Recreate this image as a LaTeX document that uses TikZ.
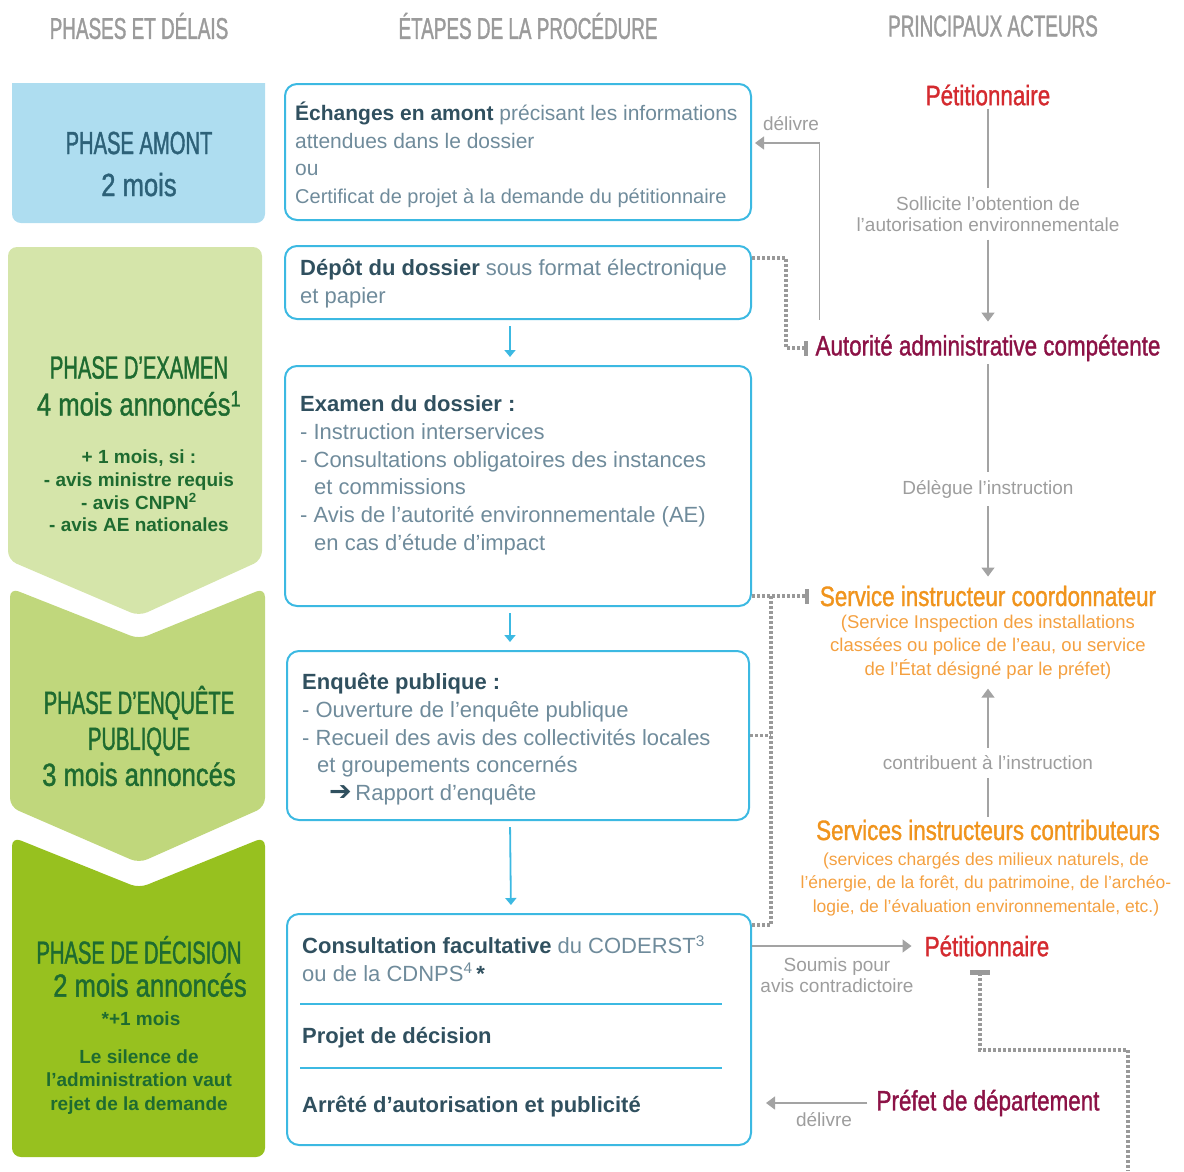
\documentclass[tikz,border=0pt]{standalone}
\usepackage{fontspec}
\setmainfont{Liberation Sans}
\newfontfamily\capfont[FakeStretch=0.63,FakeBold=1.2]{Liberation Sans}
\newfontfamily\condfont[FakeStretch=0.8,FakeBold=1.2]{Liberation Sans}
\newfontfamily\symfont{DejaVu Sans}
\usetikzlibrary{arrows.meta}

\definecolor{boxcyan}{HTML}{3CB9E2}
\definecolor{bodydark}{HTML}{30505F}
\definecolor{bodygray}{HTML}{6F8B9B}
\definecolor{hdrgray}{HTML}{9B9B9B}
\definecolor{labelgray}{HTML}{9D9D9D}
\definecolor{linegray}{HTML}{A3A3A3}
\definecolor{dotgray}{HTML}{999999}
\definecolor{amontblue}{HTML}{AEDDF0}
\definecolor{amonttext}{HTML}{2D6178}
\definecolor{examgreen}{HTML}{D5E5AA}
\definecolor{enqgreen}{HTML}{C0D77C}
\definecolor{decgreen}{HTML}{97C11F}
\definecolor{greentext}{HTML}{1E6B30}
\definecolor{actred}{HTML}{D42A2F}
\definecolor{actplum}{HTML}{8C1246}
\definecolor{actorange}{HTML}{F0941D}
\definecolor{suborange}{HTML}{F4A040}

\newcommand\stepbf[1]{{\color{bodydark}\bfseries #1}}

\begin{document}
\begin{tikzpicture}[x=1pt,y=-1pt,
  stepbox/.style={draw=boxcyan, line width=2pt, rounded corners=12pt, inner sep=0pt},
  steptext/.style={anchor=north west, inner sep=0pt, align=left, text=bodygray, font=\fontsize{22}{27.7}\selectfont},
  hdr/.style={text=hdrgray, font=\capfont\fontsize{30}{32}\selectfont},
  phasetitle/.style={text=greentext, align=center, font=\fontsize{32}{37}\selectfont},
  phasenote/.style={text=greentext, align=center, font=\bfseries\fontsize{19}{22.7}\selectfont},
  actor/.style={inner sep=3pt, font=\condfont\fontsize{28}{30}\selectfont},
  actsub/.style={text=suborange, align=center, font=\fontsize{18.5}{23.5}\selectfont},
  glabel/.style={text=labelgray, align=center, inner sep=8pt, font=\fontsize{19}{21}\selectfont},
  gline/.style={draw=linegray, line width=1.4pt},
  gtip/.style={-{Triangle[width=13pt,length=9pt]}},
  ctip/.style={draw=boxcyan, line width=1.8pt, -{Triangle[width=11pt,length=7pt]}, shorten <=6pt, shorten >=8pt},
  dline/.style={draw=dotgray, line width=3.2pt, dash pattern=on 3pt off 2pt},
  vbar/.style={-{Rectangle[length=4pt,width=15pt]}}
]
\useasboundingbox (0,0) rectangle (1184,1171);

% column titles
\node[hdr] (hPhases) at (139,26) {PHASES ET DÉLAIS};
\node[hdr] (hEtapes) at (528,26) {ÉTAPES DE LA PROCÉDURE};
\node[hdr] (hActeurs) at (993,26) {PRINCIPAUX ACTEURS};

% phases
\fill[amontblue] (12,83) -- (265,83) [rounded corners=9pt] -- (265,223) -- (12,223) [sharp corners] -- (12,83) -- cycle;
\fill[examgreen, rounded corners=9pt] (8,247) -- (262,247) -- (262,560) -- (139,616) -- (8,560) -- cycle;
\fill[enqgreen, rounded corners=9pt] (10,588) -- (139,639) -- (265,588) -- (265,807) -- (139,863) -- (10,807) -- cycle;
\fill[decgreen, rounded corners=9pt] (12,837) -- (139,888) -- (265,837) -- (265,1157) -- (12,1157) -- cycle;

\node[phasetitle, text=amonttext, font=\fontsize{32}{42}\selectfont] (amontT) at (139,164) {{\capfont PHASE AMONT}\\{\condfont 2 mois}};
\node[phasetitle] (examT) at (139,386) {{\capfont PHASE D’EXAMEN}\\{\condfont 4 mois annoncés\textsuperscript{1}}};
\node[phasenote] (examN) at (139,491) {+ 1 mois, si :\\- avis ministre requis\\- avis CNPN\textsuperscript{2}\\- avis AE nationales};
\node[phasetitle, font=\fontsize{32}{36}\selectfont] (enqT) at (139,736) {{\capfont PHASE D’ENQUÊTE}\\{\capfont PUBLIQUE}\\{\condfont 3 mois annoncés}};
\node[phasetitle] (decT) at (139,950) {\capfont PHASE DE DÉCISION};
\node[phasetitle] (decM) at (150,985) {\condfont 2 mois annoncés};
\node[phasenote] (decP) at (141,1019) {*+1 mois};
\node[phasenote, font=\bfseries\fontsize{19}{23.5}\selectfont] (decN) at (139,1082) {Le silence de\\l’administration vaut\\rejet de la demande};

% steps
\node[stepbox, minimum width=466, minimum height=136] (echanges) at (518,152) {};
\node[stepbox, minimum width=466, minimum height=73] (depot) at (518,282.5) {};
\node[stepbox, minimum width=466, minimum height=240] (examen) at (518,486) {};
\node[stepbox, minimum width=462, minimum height=169] (enquete) at (518,735.5) {};
\node[stepbox, minimum width=464, minimum height=231] (decision) at (519,1029.5) {};

\node[steptext, font=\fontsize{21}{27.7}\selectfont] (echangesT) at (295,101) {\strut\stepbf{Échanges en amont} précisant les informations\\attendues dans le dossier\\ou\\{\fontsize{20}{27.7}\selectfont Certificat de projet à la demande du pétitionnaire}};
\node[steptext] (depotT) at (300,256) {\strut\stepbf{Dépôt du dossier} sous format électronique\\et papier};
\node[steptext] (examenT) at (300,392) {\strut\stepbf{Examen du dossier :}\\- Instruction interservices\\- Consultations obligatoires des instances\\\hspace*{14pt}et commissions\\- Avis de l’autorité environnementale (AE)\\\hspace*{14pt}en cas d’étude d’impact};
\node[steptext] (enqueteT) at (302,670) {\strut\stepbf{Enquête publique :}\\- Ouverture de l’enquête publique\\- Recueil des avis des collectivités locales\\\hspace*{15pt}et groupements concernés\\\hspace*{27pt}{\symfont\fontsize{27}{27.7}\selectfont\color{bodydark}➔}\,Rapport d’enquête};
\node[steptext] (consultT) at (302,934) {\strut\stepbf{Consultation facultative} du CODERST\textsuperscript{3}\\ou de la CDNPS\textsuperscript{4}\,\stepbf{*}};
\node[steptext] (projetT) at (302,1024) {\strut\stepbf{Projet de décision}};
\node[steptext] (arreteT) at (302,1093) {\strut\stepbf{Arrêté d’autorisation et publicité}};
\draw[boxcyan, line width=1.5pt] (300,1004) -- (722,1004);
\draw[boxcyan, line width=1.5pt] (300,1068) -- (722,1068);

\draw[ctip] ([xshift=-8pt]depot.south) -- ([xshift=-8pt]examen.north);
\draw[ctip] ([xshift=-8pt]examen.south) -- ([xshift=-8pt]enquete.north);
\draw[ctip] ([xshift=-8pt]enquete.south) -- ([xshift=-8pt]decision.north);

% actors
\node[actor, text=actred] (petitA) at (988,95) {Pétitionnaire};
\node[glabel] (sollicite) at (988,214) {Sollicite l’obtention de\\l’autorisation environnementale};
\node[actor, text=actplum] (autorite) at (988,348) {Autorité administrative compétente};
\node[glabel] (delegue) at (988,489) {Délègue l’instruction};
\node[actor, text=actorange] (coordo) at (988,596) {Service instructeur coordonnateur};
\node[actsub] (coordosub) at (988,647) {(Service Inspection des installations\\classées ou police de l’eau, ou service\\de l’État désigné par le préfet)};
\node[glabel] (contrib) at (988,763) {contribuent à l’instruction};
\node[actor, text=actorange] (contribs) at (988,830) {Services instructeurs contributeurs};
\node[actsub, font=\fontsize{17.5}{23.5}\selectfont] (contribsub) at (986,884) {(services chargés des milieux naturels, de\\l’énergie, de la forêt, du patrimoine, de l’archéo-\\logie, de l’évaluation environnementale, etc.)};
\node[actor, text=actred] (petitB) at (987,946) {Pétitionnaire};
\node[actor, text=actplum] (prefet) at (988,1103) {Préfet de département};

\node[glabel, inner sep=2pt] (delivreA) at (791,124) {délivre};
\node[glabel, inner sep=2pt] (soumis) at (837,975) {Soumis pour\\avis contradictoire};
\node[glabel, inner sep=2pt] (delivreB) at (824,1120) {délivre};

\draw[gline] (petitA) -- (sollicite);
\draw[gline, gtip, shorten >=10pt] (sollicite) -- (autorite);
\draw[gline] (autorite) -- (delegue);
\draw[gline, gtip, shorten >=6pt] (delegue) -- (coordo);
\draw[gline, gtip, shorten >=6pt] (contrib) -- (coordosub);
\draw[gline] (contrib) -- (contribs);
\draw[gline, gtip, shorten <=12pt, shorten >=3pt] ([xshift=7pt]autorite.north west) |- ([yshift=9pt]echanges.east);
\draw[gline, gtip, shorten >=10pt] (decision.east |- petitB) -- (petitB.west);
\draw[gline, gtip, shorten <=6pt, shorten >=14pt] (prefet.west) -- (decision.east |- prefet);

% dotted links
\coordinate (vjoin) at (771,0 |- coordo);
\coordinate (pturn) at (1128,1050);
\coordinate (offpage) at (1128,1171);
\draw[dline, vbar, shorten >=4pt] ([yshift=24.5pt]depot.east) -- ++(34,0) |- (autorite.west);
\draw[dline, vbar, shorten >=8pt] (examen.east |- coordo) -- (coordo.west);
\draw[dline] (vjoin) |- ([yshift=-12pt]decision.north east);
\draw[dline] (enquete.east) -- (enquete.east -| vjoin);
\draw[dline, {Rectangle[length=5pt,width=20pt]}-] ([xshift=-7pt,yshift=-10pt]petitB.south) |- (pturn) -- (offpage);
\end{tikzpicture}
\end{document}
